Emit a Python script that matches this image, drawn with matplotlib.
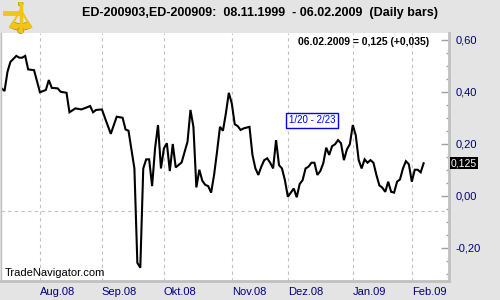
import pandas as pd
import matplotlib
matplotlib.use("Agg")
from matplotlib import pyplot as plt
from matplotlib.patches import Polygon, Wedge, Circle

plt.rcParams["font.family"] = ["Liberation Sans", "DejaVu Sans"]

# trading days (CME calendar) used for the x spacing
holidays = ["2008-09-01", "2008-11-27", "2008-12-25", "2009-01-01", "2009-01-19"]
calendar = pd.bdate_range("2008-07-14", "2009-02-06").drop(pd.to_datetime(holidays))

# spread vertices
dates = ["2008-07-15", "2008-07-16", "2008-07-17", "2008-07-18", "2008-07-22", "2008-07-23",
         "2008-07-24", "2008-07-25", "2008-07-28", "2008-07-30", "2008-08-01", "2008-08-05",
         "2008-08-06", "2008-08-07", "2008-08-11", "2008-08-12", "2008-08-14", "2008-08-15",
         "2008-08-19", "2008-08-21", "2008-08-22", "2008-08-26", "2008-08-27", "2008-08-28",
         "2008-09-02", "2008-09-03", "2008-09-05", "2008-09-09", "2008-09-11", "2008-09-12",
         "2008-09-15", "2008-09-17", "2008-09-18", "2008-09-19", "2008-09-22", "2008-09-23",
         "2008-09-24", "2008-09-25", "2008-09-26", "2008-09-29", "2008-09-30", "2008-10-01",
         "2008-10-02", "2008-10-03", "2008-10-06", "2008-10-07", "2008-10-09", "2008-10-13",
         "2008-10-14", "2008-10-15", "2008-10-16", "2008-10-17", "2008-10-20", "2008-10-21",
         "2008-10-22", "2008-10-23", "2008-10-24", "2008-10-27", "2008-10-28", "2008-10-29",
         "2008-10-30", "2008-10-31", "2008-11-03", "2008-11-04", "2008-11-05", "2008-11-06",
         "2008-11-07", "2008-11-11", "2008-11-12", "2008-11-13", "2008-11-14", "2008-11-17",
         "2008-11-18", "2008-11-19", "2008-11-20", "2008-11-21", "2008-11-24", "2008-11-25",
         "2008-11-26", "2008-11-28", "2008-12-01", "2008-12-02", "2008-12-03", "2008-12-04",
         "2008-12-05", "2008-12-08", "2008-12-09", "2008-12-10", "2008-12-11", "2008-12-12",
         "2008-12-15", "2008-12-16", "2008-12-17", "2008-12-18", "2008-12-19", "2008-12-22",
         "2008-12-23", "2008-12-24", "2008-12-26", "2008-12-29", "2008-12-30", "2008-12-31",
         "2009-01-02", "2009-01-05", "2009-01-06", "2009-01-07", "2009-01-08", "2009-01-09",
         "2009-01-12", "2009-01-13", "2009-01-14", "2009-01-15", "2009-01-16", "2009-01-20",
         "2009-01-21", "2009-01-22", "2009-01-23", "2009-01-26", "2009-01-27", "2009-01-28",
         "2009-01-29", "2009-01-30", "2009-02-02", "2009-02-03", "2009-02-04", "2009-02-05",
         "2009-02-06"]
values = [0.413, 0.403, 0.477, 0.515, 0.538, 0.531,
          0.531, 0.538, 0.486, 0.483, 0.398, 0.407,
          0.445, 0.415, 0.413, 0.400, 0.396, 0.321,
          0.336, 0.332, 0.336, 0.345, 0.321, 0.330,
          0.332, 0.300, 0.238, 0.304, 0.300, 0.255,
          0.250, 0.105, -0.258, -0.277, 0.105, 0.140,
          0.140, 0.037, 0.182, 0.272, 0.105, 0.182,
          0.202, 0.095, 0.199, 0.109, 0.128, 0.208,
          0.330, 0.265, 0.032, 0.100, 0.058, 0.042,
          0.037, 0.012, 0.080, 0.169, 0.265, 0.250,
          0.317, 0.396, 0.355, 0.275, 0.268, 0.253,
          0.259, 0.265, 0.157, 0.105, 0.080, 0.112,
          0.137, 0.144, 0.127, 0.105, 0.214, 0.118,
          0.105, 0.060, -0.004, 0.012, 0.028, -0.006,
          0.045, 0.060, 0.105, 0.112, 0.127, 0.127,
          0.080, 0.095, 0.125, 0.185, 0.157, 0.191,
          0.198, 0.214, 0.202, 0.137, 0.178, 0.198,
          0.272, 0.233, 0.137, 0.105, 0.140, 0.127,
          0.137, 0.127, 0.080, 0.040, 0.031, 0.015,
          0.054, 0.015, 0.012, 0.054, 0.063, 0.105,
          0.133, 0.121, 0.054, 0.100, 0.100, 0.090,
          0.125]

month_labels = ["Aug.08", "Sep.08", "Okt.08", "Nov.08", "Dez.08", "Jan.09", "Feb.09"]
y_labels = [-0.2, 0.0, 0.2, 0.4, 0.6]

origin = calendar.get_loc(pd.Timestamp("2008-08-01"))
xpos = [calendar.get_loc(pd.Timestamp(d)) - origin for d in dates]
first_days = calendar.to_series().groupby(calendar.to_period("M")).first()
month_pos = [calendar.get_loc(d) - origin for d in first_days if d >= pd.Timestamp("2008-08-01")]

bg = "#e4e4e4"
fig = plt.figure(figsize=(5, 3), dpi=100, facecolor=bg)
ax = fig.add_axes([0.002, 0.0633, 0.896, 0.8267])
ax.set_facecolor("white")

ax.plot(xpos, values, color="black", lw=1.5, solid_joinstyle="miter")

ax.set_xlim(-13.2, 138.6)
ax.set_ylim(-0.328, 0.626)

# grid
for m in month_pos:
    ax.axvline(m, color="#c0c0c0", lw=0.8, ls=(0, (3, 3)), zorder=0)
ax.axhline(-0.06, color="#c0c0c0", lw=0.8, ls=(0, (3, 3)), zorder=0)

ax.set_xticks(month_pos)
ax.set_xticklabels(month_labels, ha="left", color="#000080", fontsize=8)
ax.tick_params(axis="x", length=0, pad=4)

ax.yaxis.tick_right()
ax.set_yticks(y_labels)
ax.set_yticklabels([f"{v:.2f}".replace(".", ",") for v in y_labels], color="#000080", fontsize=8)
ax.set_yticks([i * 0.05 for i in range(-6, 13)], minor=True)
ax.tick_params(axis="y", which="major", direction="in", length=6, width=1, color="#a0a0a0", pad=5)
ax.tick_params(axis="y", which="minor", direction="in", length=2.5, width=1, color="#a0a0a0")

ax.spines["top"].set_visible(False)
ax.spines["left"].set_color("#c0c0c0")
ax.spines["left"].set_linewidth(1)
ax.spines["bottom"].set_color("#c0c0c0")
ax.spines["bottom"].set_linewidth(2)
ax.spines["right"].set_color("#c0c0c0")
ax.spines["right"].set_linewidth(2)

# last value marker on the scale
ax.text(1.004, 0.125, "0,125", transform=ax.get_yaxis_transform(), color="white", fontsize=7.5,
        va="center", ha="left", bbox=dict(boxstyle="square,pad=0.12", fc="black", ec="none"))

ax.text(0.955, 0.985, "06.02.2009 = 0,125 (+0,035)", transform=ax.transAxes, fontsize=7.5,
        fontweight="bold", ha="right", va="top")
ax.text(84.3, 0.291, "1/20 - 2/23", fontsize=7, color="#0000ff", ha="left", va="center",
        bbox=dict(boxstyle="square,pad=0.25", fc="white", ec="#0000ff", lw=1))
ax.text(0.008, 0.012, "TradeNavigator.com", transform=ax.transAxes, fontsize=8, ha="left", va="bottom")

fig.text(0.52, 0.958, "ED-200903,ED-200909:  08.11.1999  - 06.02.2009  (Daily bars)",
         fontsize=9, fontweight="bold", ha="center", va="center")

# golden sextant logo
logo = fig.add_axes([0.004, 0.885, 0.068, 0.11])
logo.set_xlim(0, 1)
logo.set_ylim(0, 1)
logo.axis("off")
gold, dark = "#f2c418", "#b08a00"
logo.add_patch(Wedge((0.55, 0.75), 0.62, 238, 302, width=0.2, fc=gold, ec=dark, lw=0.5))
logo.add_patch(Polygon([[0.55, 0.75], [0.25, 0.22], [0.85, 0.22]], closed=True, fill=False, ec=gold, lw=1.5))
logo.plot([0.55, 0.55], [0.12, 0.92], color=gold, lw=2.5, solid_capstyle="round")
logo.plot([0.08, 0.5], [0.65, 0.65], color=gold, lw=3.5)
logo.add_patch(Circle((0.55, 0.93), 0.07, fc=gold, ec=dark, lw=0.5))
logo.add_patch(Circle((0.55, 0.12), 0.09, fc=gold, ec=dark, lw=0.5))

plt.savefig("out.png", dpi=100, facecolor=bg)
